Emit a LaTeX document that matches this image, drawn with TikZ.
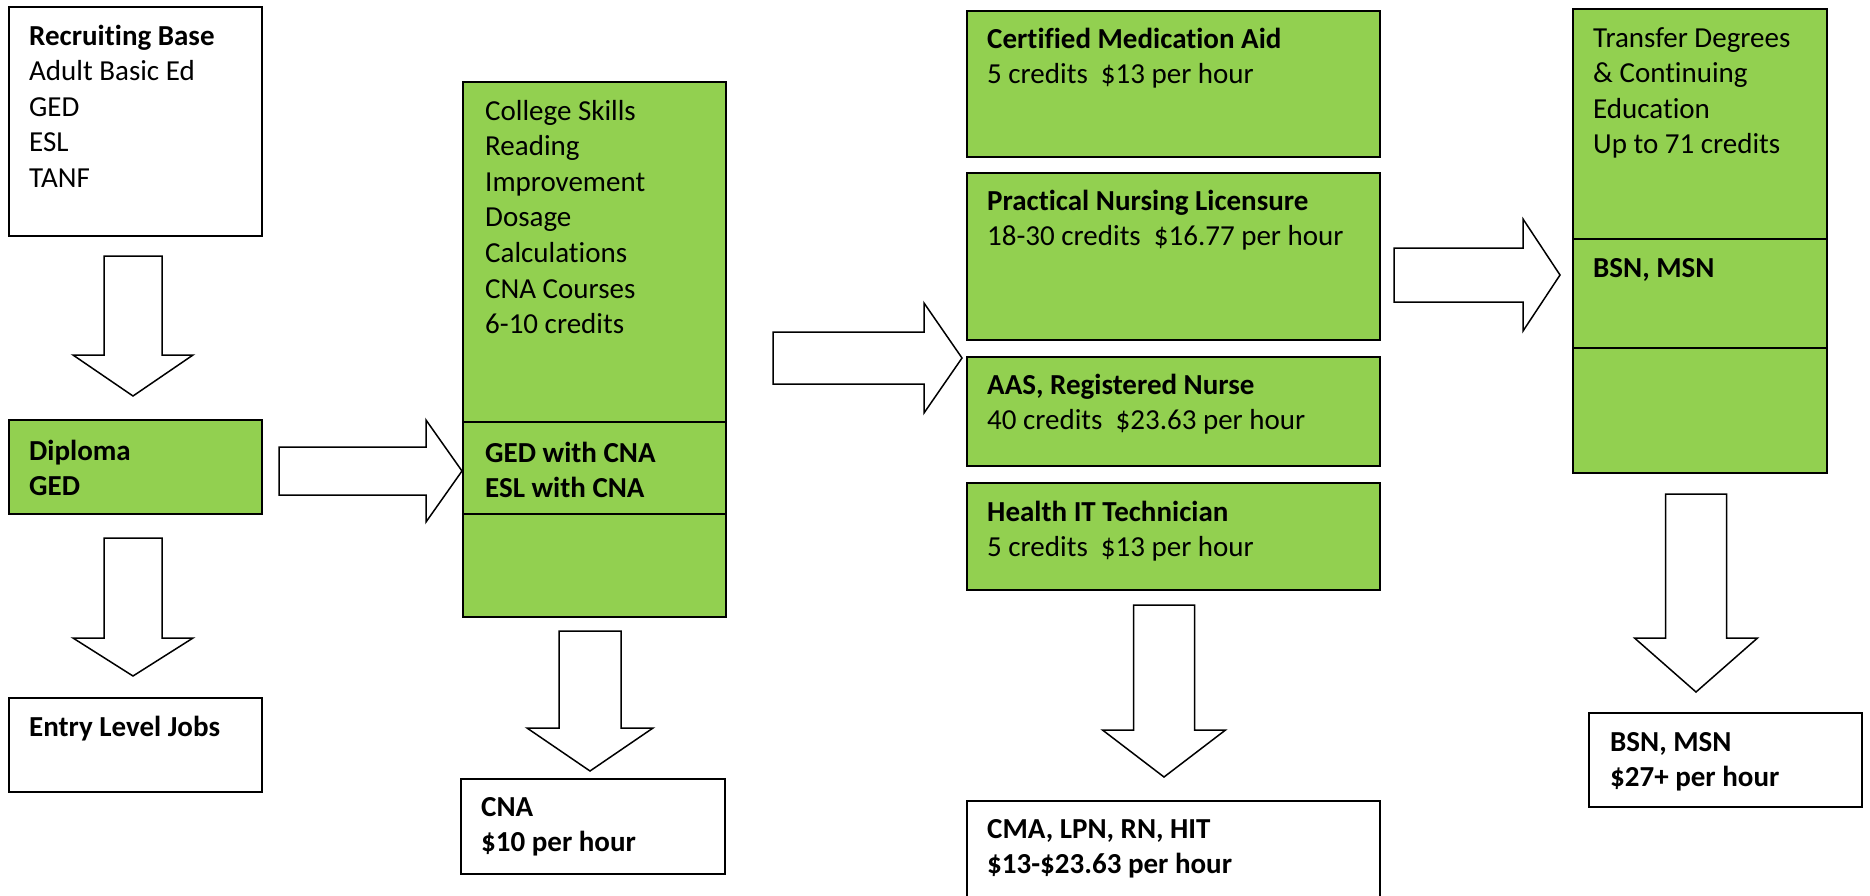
\documentclass[tikz,border=0pt]{standalone}
\usepackage{fontspec}
\setmainfont{Carlito}[Ligatures={NoCommon}]
\usetikzlibrary{calc}
\definecolor{lgreen}{HTML}{92D050}
\newcommand\fs{\fontsize{29}{35.6}\selectfont}
\newcommand\mkbox[6]{\node[#2, minimum width={(#5)-(#3)}, minimum height={(#6)-(#4)}] (#1) at (#3,#4) {};}
% down block arrow: cx, top, head y, tip y, shaft half width, head half width
\newcommand\dnarrow[6]{\draw[barrow] ({#1-#5},#2) -- ({#1+#5},#2) -- ({#1+#5},#3) -- ({#1+#6},#3) -- (#1,#4) -- ({#1-#6},#3) -- ({#1-#5},#3) -- cycle;}
% right block arrow: cy, left x, head x, tip x, shaft half width, head half width
\newcommand\rtarrow[6]{\draw[barrow] (#2,{#1-#5}) -- (#3,{#1-#5}) -- (#3,{#1-#6}) -- (#4,#1) -- (#3,{#1+#6}) -- (#3,{#1+#5}) -- (#2,{#1+#5}) -- cycle;}
\begin{document}
\begin{tikzpicture}[x=1pt,y=-1pt,
  box/.style={draw=black, line width=1.8pt, fill=white, inner sep=0pt, outer sep=0pt, anchor=north west},
  gbox/.style={box, fill=lgreen},
  txt/.style={anchor=north west, inner sep=0pt, align=left, font=\fs, text=black},
  btxt/.style={txt, font=\fs\bfseries},
  barrow/.style={draw=black, line width=1.5pt, fill=white, line join=miter}]
\useasboundingbox (0,0) rectangle (1870,895);

% boxes
\mkbox{rb}{box}{9}{7}{262}{236}
\mkbox{dip}{gbox}{9}{420}{262}{514}
\mkbox{entry}{box}{9}{698}{262}{792}
\mkbox{col1}{gbox}{463}{82}{726}{422}
\mkbox{col2}{gbox}{463}{422}{726}{514}
\mkbox{col3}{gbox}{463}{514}{726}{617}
\mkbox{cna}{box}{461}{779}{725}{874}
\mkbox{cma}{gbox}{967}{11}{1380}{157}
\mkbox{pnl}{gbox}{967}{173}{1380}{340}
\mkbox{aas}{gbox}{967}{357}{1380}{466}
\mkbox{hit}{gbox}{967}{483}{1380}{590}
\mkbox{fin3}{box}{967}{801}{1380}{915}
\mkbox{rc1}{gbox}{1573}{9}{1827}{239}
\mkbox{rc2}{gbox}{1573}{239}{1827}{348}
\mkbox{rc3}{gbox}{1573}{348}{1827}{473}
\mkbox{fin4}{box}{1589}{713}{1862}{807}

% texts
\node[txt] (t-rb) at ([shift={(20,13)}]rb.north west) {\strut\textbf{Recruiting Base}\\Adult Basic Ed\\GED\\ESL\\TANF};
\node[btxt] (t-dip) at ([shift={(20,15)}]dip.north west) {\strut Diploma\\GED};
\node[btxt] (t-entry) at ([shift={(20,13)}]entry.north west) {\strut Entry Level Jobs};
\node[txt] (t-col1) at ([shift={(22,13)}]col1.north west) {\strut College Skills\\Reading\\Improvement\\Dosage\\Calculations\\CNA Courses\\6-10 credits};
\node[btxt] (t-col2) at ([shift={(22,15)}]col2.north west) {\strut GED with CNA\\ESL with CNA};
\node[btxt] (t-cna) at ([shift={(20,12)}]cna.north west) {\strut CNA\\\$10 per hour};
\node[txt] (t-cma) at ([shift={(20,12)}]cma.north west) {\strut\textbf{Certified Medication Aid}\\5 credits~~\$13 per hour};
\node[txt] (t-pnl) at ([shift={(20,12)}]pnl.north west) {\strut\textbf{Practical Nursing Licensure}\\18-30 credits~~\$16.77 per hour};
\node[txt] (t-aas) at ([shift={(20,12)}]aas.north west) {\strut\textbf{AAS, Registered Nurse}\\40 credits~~\$23.63 per hour};
\node[txt] (t-hit) at ([shift={(20,13)}]hit.north west) {\strut\textbf{Health IT Technician}\\5 credits~~\$13 per hour};
\node[btxt] (t-fin3) at ([shift={(20,12)}]fin3.north west) {\strut CMA, LPN, RN, HIT\\\$13-\$23.63 per hour};
\node[txt] (t-rc1) at ([shift={(20,13)}]rc1.north west) {\strut Transfer Degrees\\\& Continuing\\Education\\Up to 71 credits};
\node[btxt] (t-rc2) at ([shift={(20,13)}]rc2.north west) {\strut BSN, MSN};
\node[btxt] (t-fin4) at ([shift={(21,13)}]fin4.north west) {\strut BSN, MSN\\\$27+ per hour};

% block arrows
\dnarrow{133}{256}{355}{396}{29}{60}
\dnarrow{133}{538}{638}{676}{29}{60}
\dnarrow{590}{631}{728}{771}{31}{63}
\dnarrow{1164}{605}{730}{777}{30.5}{61.5}
\dnarrow{1696}{494}{638}{692}{30.5}{61.5}
\rtarrow{471}{279}{426}{462}{24}{51}
\rtarrow{358}{773}{924}{962}{26}{55}
\rtarrow{275}{1394}{1523}{1560}{27}{56}
\end{tikzpicture}
\end{document}
